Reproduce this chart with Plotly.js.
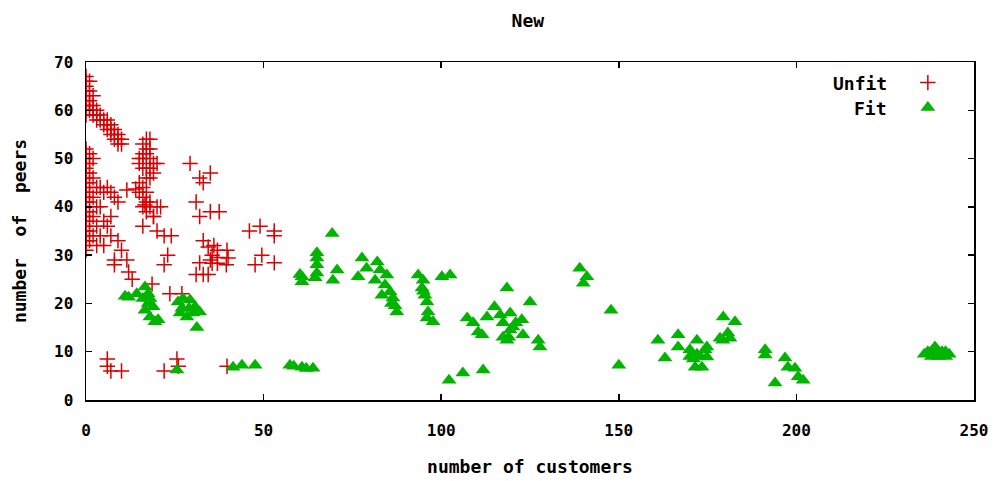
<!DOCTYPE html>
<html><head><meta charset="utf-8">
<script src="https://cdn.plot.ly/plotly-3.0.1.min.js"></script>
<style>html,body{margin:0;padding:0;background:#fff}#chart{width:996px;height:481px}</style>
</head><body><div id="chart"></div>
<script>
const unfitX = [0,0,0,0,0,0,0,0,0,1,1,1,1,1,2,2,2,2,3,3,3,4,4,5,5,6,6,6,7,7,7,8,8,8,9,9,9,10,10,
17,18,16,17,18,16,15,16,17,18,19,15,16,17,18,19,20,17,18,
0,0,0,0,0,0,0,0,0,0,0,0,0,0,0,0,0,0,0,0,0,0,
1,1,1,1,1,1,1,1,1,1,2,2,2,2,2,3,3,3,3,
4,5,6,7,8,9,5,7,7,5,10,8,8,11.5,12,13,4,6,9,4,11.5,14,
15,16,15,16,17,17,18,16,17,18,19,20,16.6,
16,20,22,24,23,22,18.6,19,21,23.6,27,
29.3,35,32,33,31,32,35,37.5,33,34.4,36,37,39.7,35.5,37,40,35.5,37,39.5,32,31,33,34.4,35,
46,49,53,53,49.5,47.6,53,
6,6,7,10,22,25.6,26,39.7];
const unfitY = [67,66,65,64,63,62,61,60,59,66,64,62,61,60,63,61,60,59,60,59,58,59,58,58,57,58,57,56,57,56,55,56,55,54,55,54,53,54,53,
54,54,53,52,52,51,50,50,51,50,49,49,48,48,48,47,49,46,46,
31,32,33,34,35,36,37,38,39,40,41,42,43,44,45,46,47,48,49,50,51,52,
33,35,37,39,41,43,45,47,49,51,34,38,42,46,50,44,40,36,32,
44,43,44,43,42,41,37,38,34,32,31,29,28,29,26.5,25,40,36,33,34,43.5,43.7,
45,44,43,42,43,41,41,40,39,40,38,40,40.4,
36,35,34,34,30,28,24,38,40,22,22,
49,47,46,45,41,38,39,39,33,31.7,32,31,31,30,29.5,29.4,28.3,28.3,28,28.4,26,26,26,29,
35,36,35,34,30,28,28.4,
8.5,7,6,6,6,8.5,7,7];

const fitX = [11,12,14.3,16.6,17.5,17.5,16.6,18.9,18,19.4,20.3,18,16,
25.9,27.3,29.3,30.7,32,26.5,28.4,30.1,31.2,27,29,
25.6,41.4,43.9,47.6,57.4,58.5,60.8,62,63.9,
69.3,65,65,65,65,64.5,60.8,60.2,60.8,70.7,69.5,77.7,76.6,79,82,82.8,81.4,84.7,84.2,83.3,85.6,86.4,87.5,87,86,
93.5,94.9,94.6,95.4,96,96.3,96,97.7,95,100.2,102.5,
102.2,106.1,111.8,
107.3,109,110.4,111.5,112.9,115,116.6,118.5,117.4,117.4,119.4,119.4,118.5,120.2,122.7,123,125,127.3,127.8,121,119,
139,141,140,147.8,150,
161,163,166.7,166.7,170,172,171.5,174.8,178.5,179.4,182.7,180.7,181.3,179.3,174.3,174.8,173.4,170,171,172,173,
191.2,191.2,196.8,197.6,199.6,200.5,201.9,194,
236,237,238,239,240,241,242,243,238,240,242];
const fitY = [21.5,21.3,22,23.4,22,20,18.6,19.3,17.2,16.2,16.6,21,21,
20.3,21,20.7,19.3,18.2,18,17.2,18,15,19,19,
6.2,6.8,7.2,7.2,7.2,7,6.8,6.5,6.6,
34.5,30.5,29.4,28,26.3,25.3,25.5,26,24.5,26.9,24.8,29.4,25.5,27.3,28.6,26.9,24.8,25.9,23.8,21.7,22.4,21.1,18.2,19.5,20,
25.9,24.8,23.2,21.7,20.3,18.2,17,16.2,22.5,25.5,25.9,
4.1,5.6,6.2,
17,16,14.1,13.5,17.2,19.3,17.6,23.2,13,16,18,14.5,12.4,15.1,16.6,13.5,20.3,12.4,11,16,13,
27.3,25.5,24.2,18.6,7.2,
12.4,8.7,13.5,11,10.4,12.4,6.8,11,12.8,17.2,16.2,13.9,12.8,12.4,10.4,8.9,6.8,9,8.5,9.5,9,
10.4,9.3,8.7,6.8,6.6,4.8,4.1,3.5,
9.5,10,10,11,10,10,10,9.5,9,9,9];

const xTicks = [0,50,100,150,200,250];
const yTicks = [0,10,20,30,40,50,60,70];
const seriesNames = ["Unfit","Fit"];

const FONT = "DejaVu Sans Mono, Liberation Mono, monospace";
const traces = [
  {x: unfitX, y: unfitY, name: seriesNames[0], legendgroup: 'u', type: 'scatter', mode: 'markers',
   marker: {symbol: 'cross-thin-open', size: 11, color: '#d80000', line: {width: 1.5, color: '#d80000'}}},
  {x: fitX, y: fitY, name: seriesNames[1], legendgroup: 'f', type: 'scatter', mode: 'markers',
   marker: {symbol: 'triangle-up', size: 13, color: '#00b400', line: {width: 0}}}
];
const axisCommon = {
  showline: true, mirror: 'ticks', linecolor: '#000', linewidth: 1.5,
  ticks: 'inside', ticklen: 6, tickwidth: 1.5, tickcolor: '#000',
  showgrid: false, zeroline: false,
  tickfont: {family: FONT, size: 16, color: '#000', weight: 'bold'}
};
const titleFont = {family: FONT, size: 18, color: '#000', weight: 'bold'};
const layout = {
  width: 996, height: 481,
  margin: {l: 86, r: 22, t: 62, b: 81, autoexpand: false},
  paper_bgcolor: '#fff', plot_bgcolor: '#fff',
  title: {text: 'New', x: 0.53, xanchor: 'center', y: 0.958, yanchor: 'middle', yref: 'container', font: titleFont},
  xaxis: Object.assign({}, axisCommon, {range: [0, 250], tickvals: xTicks, ticktext: xTicks.map(String),
          ticklabelstandoff: 15,
          title: {text: 'number of customers', standoff: 21, font: titleFont}}),
  yaxis: Object.assign({}, axisCommon, {range: [0, 70], tickvals: yTicks, ticktext: yTicks.map(String),
          ticklabelstandoff: 8,
          title: {text: 'number\u00a0\u00a0of\u00a0\u00a0peers', standoff: 22, font: titleFont}}),
  showlegend: true,
  legend: {x: 0.9255, xanchor: 'left', y: 0.982, yanchor: 'top', bgcolor: 'rgba(0,0,0,0)',
           tracegroupgap: 6, font: {family: FONT, size: 1, color: 'rgba(0,0,0,0)'}, itemwidth: 30},
  annotations: [
    {text: seriesNames[0], xref: 'paper', yref: 'paper', x: (889-86)/888, y: (400-83)/338, xanchor: 'right', yanchor: 'middle',
     showarrow: false, font: titleFont},
    {text: seriesNames[1], xref: 'paper', yref: 'paper', x: (889-86)/888, y: (400-108)/338, xanchor: 'right', yanchor: 'middle',
     showarrow: false, font: titleFont}
  ]
};
Plotly.newPlot('chart', traces, layout, {displayModeBar: false, staticPlot: true});
</script></body></html>
